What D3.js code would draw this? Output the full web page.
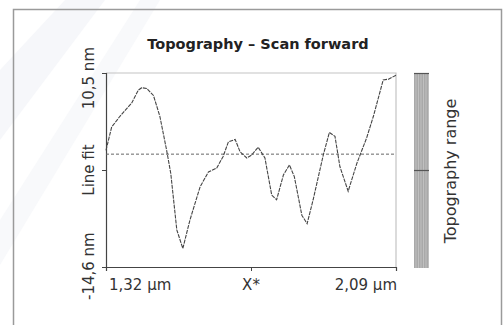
<!DOCTYPE html>
<html>
<head>
<meta charset="utf-8">
<script src="https://cdn.jsdelivr.net/npm/d3@7"></script>
<style>
  body { margin: 0; background: #fff; }
  svg { display: block; font-family: "DejaVu Sans", sans-serif; }
</style>
</head>
<body>
<svg id="chart"></svg>
<script>
// Data (x in µm, height in nm)
const X_UM = [1.320, 1.335, 1.357, 1.388, 1.406, 1.415, 1.428, 1.446, 1.463, 1.481,
  1.492, 1.508, 1.524, 1.543, 1.570, 1.592, 1.614, 1.631, 1.645, 1.663,
  1.676, 1.694, 1.707, 1.724, 1.742, 1.760, 1.773, 1.791, 1.807, 1.820,
  1.840, 1.854, 1.870, 1.897, 1.913, 1.928, 1.941, 1.963, 1.986, 2.012,
  2.030, 2.056, 2.070, 2.090];
const HEIGHT_NM = [0.5, 3.5, 4.9, 6.6, 8.3, 8.6, 8.5, 7.6, 4.9, 0.5,
  -2.5, -9.8, -12.2, -8.5, -4.2, -2.3, -1.8, -0.3, 1.6, 1.9,
  0.3, -0.5, -0.1, 0.9, -0.5, -5.3, -5.9, -2.7, -1.4, -2.9,
  -7.9, -9.0, -5.9, -0.1, 2.8, 2.3, -1.6, -4.8, -1.2, 2.1,
  4.9, 9.6, 9.7, 10.2];
const X_DOMAIN = [1.32, 2.09];
const Y_DOMAIN = [-14.6, 10.5];
const LINE_FIT = 0;
const X_LABELS = ["1,32 µm", "X*", "2,09 µm"];
const Y_LABELS = ["-14,6 nm", "Line fit", "10,5 nm"];
const TITLE = "Topography – Scan forward";
const RANGE_LABEL = "Topography range";

const W = 504, H = 325;
const PLOT = { left: 106, right: 396, top: 73, bottom: 267 };
const BAR = { x: 414, w: 15 };

const svg = d3.select("#chart").attr("width", W).attr("height", H);

// faint background stripes
svg.append("polygon")
  .attr("points", "0,70 65,0 105,0 0,140")
  .attr("fill", "#f6f7fa");
svg.append("polygon")
  .attr("points", "0,220 140,0 160,0 0,265")
  .attr("fill", "#f8f9fb");

// outer frame
svg.append("path")
  .attr("d", `M13.5,${H + 2} V9.5 H501.5 V${H + 2}`)
  .attr("fill", "none")
  .attr("stroke", "#9a9a9a")
  .attr("stroke-width", 1.5);

// Scales
const x = d3.scaleLinear().domain(X_DOMAIN).range([PLOT.left, PLOT.right]);
const y = d3.scaleLinear().domain(Y_DOMAIN).range([PLOT.bottom, PLOT.top]);

// plot box (light top/right)
svg.append("path")
  .attr("d", `M${PLOT.left},${PLOT.top} H${PLOT.right} V${PLOT.bottom}`)
  .attr("fill", "none")
  .attr("stroke", "#c4c4c4")
  .attr("stroke-width", 1.2);

// Axes
const yTicks = [Y_DOMAIN[0], (Y_DOMAIN[0] + Y_DOMAIN[1]) / 2, Y_DOMAIN[1]];
const xTicks = [X_DOMAIN[0], (X_DOMAIN[0] + X_DOMAIN[1]) / 2, X_DOMAIN[1]];

const yAxis = svg.append("g")
  .attr("transform", `translate(${PLOT.left},0)`)
  .call(d3.axisLeft(y).tickValues(yTicks).tickSize(4).tickFormat(""));
const xAxis = svg.append("g")
  .attr("transform", `translate(0,${PLOT.bottom})`)
  .call(d3.axisBottom(x).tickValues(xTicks).tickSize(4).tickFormat(""));
[yAxis, xAxis].forEach(g => {
  g.select(".domain").attr("stroke", "#444").attr("stroke-width", 1.2);
  g.selectAll(".tick line").attr("stroke", "#444");
});

// line fit
svg.append("line")
  .attr("x1", PLOT.left).attr("x2", PLOT.right)
  .attr("y1", y(LINE_FIT)).attr("y2", y(LINE_FIT))
  .attr("stroke", "#666")
  .attr("stroke-width", 1)
  .attr("stroke-dasharray", "3,2");

// profile
const line = d3.line()
  .x((d, i) => x(X_UM[i]))
  .y(d => y(d));
svg.append("path")
  .datum(HEIGHT_NM)
  .attr("d", line)
  .attr("fill", "none")
  .attr("stroke", "#444")
  .attr("stroke-width", 1.1)
  .attr("stroke-dasharray", "4,1");

// title
svg.append("text")
  .attr("x", 258).attr("y", 49)
  .attr("text-anchor", "middle")
  .attr("font-size", 14.5)
  .attr("font-weight", "bold")
  .attr("fill", "#222")
  .text(TITLE);

// y labels (rotated)
const yLabelPos = [
  { y: 300, anchor: "start" },
  { y: 170, anchor: "middle" },
  { y: 47, anchor: "end" }
];
svg.selectAll(".ylab")
  .data(Y_LABELS)
  .enter()
  .append("text")
  .attr("class", "ylab")
  .attr("transform", (d, i) => `translate(94,${yLabelPos[i].y}) rotate(-90)`)
  .attr("text-anchor", (d, i) => yLabelPos[i].anchor)
  .attr("font-size", 15)
  .attr("fill", "#333")
  .text(d => d);

// x labels
const xAnchors = ["start", "middle", "end"];
const xPos = [109, x(xTicks[1]), 397];
svg.selectAll(".xlab")
  .data(X_LABELS)
  .enter()
  .append("text")
  .attr("class", "xlab")
  .attr("x", (d, i) => xPos[i])
  .attr("y", 290)
  .attr("text-anchor", (d, i) => xAnchors[i])
  .attr("font-size", 15)
  .attr("fill", "#333")
  .text(d => d);

// colour bar
const bar = svg.append("g");
bar.append("rect")
  .attr("x", BAR.x).attr("y", y(Y_DOMAIN[1]))
  .attr("width", BAR.w).attr("height", y(Y_DOMAIN[0]) - y(Y_DOMAIN[1]) + 1)
  .attr("fill", "#a9a9a9");
bar.selectAll(".stripe")
  .data(d3.range(BAR.x + 2, BAR.x + BAR.w, 2.5))
  .enter()
  .append("line")
  .attr("class", "stripe")
  .attr("x1", d => d).attr("x2", d => d)
  .attr("y1", y(Y_DOMAIN[1])).attr("y2", y(Y_DOMAIN[0]) + 1)
  .attr("stroke", "#c6c6c6")
  .attr("stroke-width", 0.8);
bar.selectAll(".bartick")
  .data([Y_DOMAIN[1], yTicks[1]])
  .enter()
  .append("line")
  .attr("class", "bartick")
  .attr("x1", BAR.x).attr("x2", BAR.x + BAR.w)
  .attr("y1", d => y(d) + 0.5).attr("y2", d => y(d) + 0.5)
  .attr("stroke", "#555")
  .attr("stroke-width", 1.2);

svg.append("text")
  .attr("transform", `translate(456,171) rotate(-90)`)
  .attr("text-anchor", "middle")
  .attr("font-size", 16)
  .attr("fill", "#333")
  .text(RANGE_LABEL);
</script>
</body>
</html>
